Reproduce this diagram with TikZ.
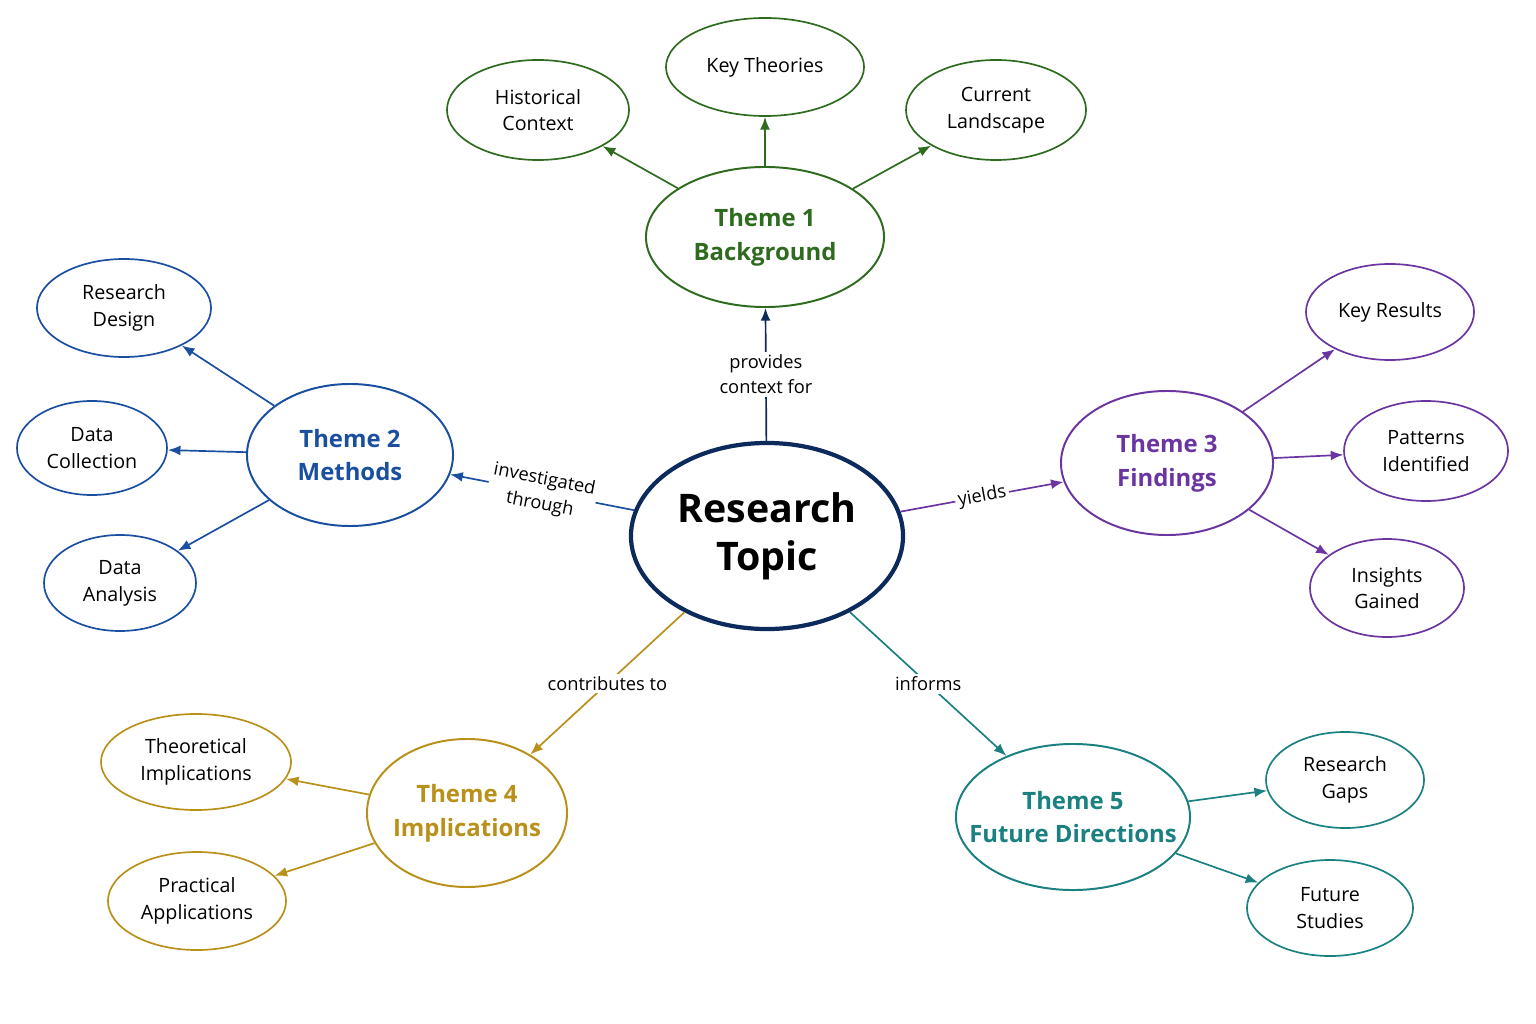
\documentclass[tikz,border=0pt]{standalone}
\usepackage{fontspec}
\setmainfont{Open Sans}
\usetikzlibrary{shapes.geometric, positioning, arrows.meta}
\definecolor{navy}{HTML}{0D2A5C}
\definecolor{tgreen}{HTML}{2E6B1F}
\definecolor{tblue}{HTML}{1A4FA0}
\definecolor{tpurple}{HTML}{6A35A0}
\definecolor{tgold}{HTML}{B8901A}
\definecolor{tteal}{HTML}{1A8080}
\begin{document}
\begin{tikzpicture}[
        x=0.025cm, y=-0.025cm,
        topic/.style={ellipse, draw=navy, line width=3pt, inner sep=0pt, align=center, font=\fontsize{28}{34}\selectfont\bfseries},
        theme/.style={ellipse, draw=#1, line width=1.4pt, inner sep=0pt, align=center, text=#1, font=\fontsize{17}{24}\selectfont\bfseries},
        leaf/.style={ellipse, draw=#1, line width=1.2pt, inner sep=0pt, align=center, font=\fontsize{14}{19}\selectfont},
        arrow/.style={-{Latex[length=9pt, width=7pt]}, line width=1.2pt, draw=#1},
        lbl/.style={fill=white, inner sep=2pt, align=center, font=\fontsize{13}{18}\selectfont}
    ]
        \useasboundingbox (0,0) rectangle (1536,1024);
        % Center
        \node[topic, minimum width=6.8cm, minimum height=4.65cm] (topic) at (767,536) {Research\\Topic};

        % Theme 1
        \node[theme=tgreen, minimum width=5.95cm, minimum height=3.5cm] (bg) at (765,237) {Theme 1\\Background};
        \node[leaf=tgreen, minimum width=4.55cm, minimum height=2.5cm] (hist) at (538,110) {Historical\\Context};
        \node[leaf=tgreen, minimum width=4.95cm, minimum height=2.45cm] (theo) at (765,67) {Key Theories};
        \node[leaf=tgreen, minimum width=4.5cm, minimum height=2.5cm] (land) at (996,110) {Current\\Landscape};

        % Theme 2
        \node[theme=tblue, minimum width=5.15cm, minimum height=3.55cm] (meth) at (350,455) {Theme 2\\Methods};
        \node[leaf=tblue, minimum width=4.35cm, minimum height=2.45cm] (design) at (124,308) {Research\\Design};
        \node[leaf=tblue, minimum width=3.75cm, minimum height=2.35cm] (collect) at (92,448) {Data\\Collection};
        \node[leaf=tblue, minimum width=3.8cm, minimum height=2.4cm] (analysis) at (120,583) {Data\\Analysis};

        % Theme 3
        \node[theme=tpurple, minimum width=5.3cm, minimum height=3.6cm] (find) at (1167,463) {Theme 3\\Findings};
        \node[leaf=tpurple, minimum width=4.2cm, minimum height=2.4cm] (results) at (1390,312) {Key Results};
        \node[leaf=tpurple, minimum width=4.1cm, minimum height=2.5cm] (patterns) at (1426,451) {Patterns\\Identified};
        \node[leaf=tpurple, minimum width=3.85cm, minimum height=2.45cm] (insights) at (1387,588) {Insights\\Gained};

        % Theme 4
        \node[theme=tgold, minimum width=5cm, minimum height=3.7cm, inner xsep=-0.3cm] (impl) at (467,813) {Theme 4\\Implications};
        \node[leaf=tgold, minimum width=4.75cm, minimum height=2.4cm] (theoimpl) at (196,762) {Theoretical\\Implications};
        \node[leaf=tgold, minimum width=4.45cm, minimum height=2.45cm] (practical) at (197,901) {Practical\\Applications};

        % Theme 5
        \node[theme=tteal, minimum width=5.85cm, minimum height=3.65cm, inner xsep=-0.6cm] (future) at (1073,817) {Theme 5\\Future Directions};
        \node[leaf=tteal, minimum width=3.95cm, minimum height=2.4cm] (gaps) at (1345,780) {Research\\Gaps};
        \node[leaf=tteal, minimum width=4.15cm, minimum height=2.4cm] (studies) at (1330,908) {Future\\Studies};

        % Arrows from center
        \draw[arrow=navy] (topic) -- node[lbl] {provides\\context for} (bg);
        \draw[arrow=tblue] (topic) -- node[lbl, sloped] {investigated\\through} (meth);
        \draw[arrow=tpurple] (topic) -- node[lbl, sloped] {yields} (find);
        \draw[arrow=tgold] (topic) -- node[lbl] {contributes to} (impl);
        \draw[arrow=tteal] (topic) -- node[lbl] {informs} (future);

        % Arrows to leaves
        \draw[arrow=tgreen] (bg) -- (hist);
        \draw[arrow=tgreen] (bg) -- (theo);
        \draw[arrow=tgreen] (bg) -- (land);
        \draw[arrow=tblue] (meth) -- (design);
        \draw[arrow=tblue] (meth) -- (collect);
        \draw[arrow=tblue] (meth) -- (analysis);
        \draw[arrow=tpurple] (find) -- (results);
        \draw[arrow=tpurple] (find) -- (patterns);
        \draw[arrow=tpurple] (find) -- (insights);
        \draw[arrow=tgold] (impl) -- (theoimpl);
        \draw[arrow=tgold] (impl) -- (practical);
        \draw[arrow=tteal] (future) -- (gaps);
        \draw[arrow=tteal] (future) -- (studies);
    \end{tikzpicture}
\end{document}
